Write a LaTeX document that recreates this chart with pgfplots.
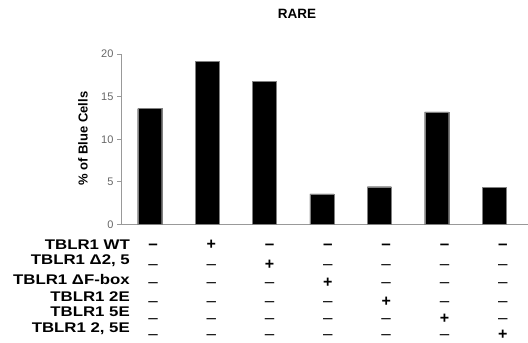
\documentclass[border=0pt]{standalone}
\usepackage{pgfplots}
\pgfplotsset{compat=1.18}
\usepackage{fontspec}
\setmainfont{Liberation Sans}
\begin{document}
\begin{tikzpicture}[x=1pt,y=1pt]
\useasboundingbox (0,0) rectangle (528,343);
\begin{axis}[
 at={(121pt,118.5pt)}, anchor=south west,
 scale only axis, width=407pt, height=170.5pt,
 xmin=-0.5, xmax=6.59, ymin=0, ymax=20,
 axis x line*=bottom, axis y line*=left,
 axis line style={draw=black!40, line width=0.8pt},
 ytick={0,5,10,15,20},
 ytick style={draw=black!40, line width=0.8pt},
 tick align=outside, major tick length=4pt,
 yticklabel style={font=\fontsize{11}{12}\selectfont, text=black!60},
 /pgf/number format/assume math mode=true,
 xtick=\empty,
 clip=false,
]
\addplot[ybar, bar width=24pt, fill=black, draw=black!50] coordinates {
 (0,13.6) (1,19.1) (2,16.8) (3,3.58) (4,4.43) (5,13.2) (6,4.32)};
\end{axis}
\node[font=\fontsize{13.5}{14}\selectfont\bfseries] at (297,328.7) {RARE};
\node[rotate=90, font=\fontsize{13}{14}\selectfont\bfseries] at (83,204.5) {\% of Blue Cells};
\begin{scope}[every node/.style={anchor=base east, inner sep=0pt, font=\fontsize{14}{16}\selectfont\bfseries}]
\node at (130,93) {\scalebox{1.2}[1]{TBLR1 WT}};
\node at (130,78) {\scalebox{1.2}[1]{TBLR1 Δ2, 5}};
\node at (130,58) {\scalebox{1.2}[1]{TBLR1 ΔF-box}};
\node at (130,41) {\scalebox{1.2}[1]{TBLR1 2E}};
\node at (130,26) {\scalebox{1.2}[1]{TBLR1 5E}};
\node at (130,10) {\scalebox{1.2}[1]{TBLR1 2, 5E}};
\end{scope}
\foreach \r/\y in {1/93.5,2/73.5,3/55.5,4/36.5,5/19.5,6/3.5} {
  \foreach \c in {0,...,6} {
    \ifnum\c=\r
      \node[anchor=base, inner sep=0pt, font=\fontsize{16}{16}\selectfont\bfseries] at (153+58.3*\c,\y) {+};
    \else
      \node[anchor=base, inner sep=0pt, font=\fontsize{17}{17}\selectfont] at (153+58.3*\c,\y) {\ifnum\r=1 \bfseries\fi --};
    \fi
  }
}
\end{tikzpicture}
\end{document}
